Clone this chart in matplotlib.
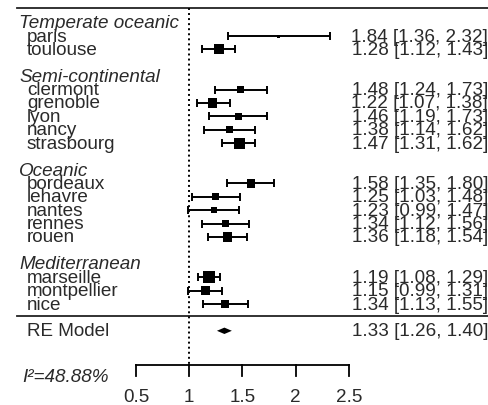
import numpy as np
import matplotlib
matplotlib.use("Agg")
import matplotlib.pyplot as plt

plt.rcParams['font.family'] = ['Liberation Sans', 'DejaVu Sans']

groups = ["Temperate oceanic", "Semi-continental", "Oceanic", "Mediterranean"]
group_studies = [
    ["paris", "toulouse"],
    ["clermont", "grenoble", "lyon", "nancy", "strasbourg"],
    ["bordeaux", "lehavre", "nantes", "rennes", "rouen"],
    ["marseille", "montpellier", "nice"],
]
est = [1.84, 1.28, 1.48, 1.22, 1.46, 1.38, 1.47, 1.58, 1.25, 1.23, 1.34, 1.36, 1.19, 1.15, 1.34]
lo = [1.36, 1.12, 1.24, 1.07, 1.19, 1.14, 1.31, 1.35, 1.03, 0.99, 1.12, 1.18, 1.08, 0.99, 1.13]
hi = [2.32, 1.43, 1.73, 1.38, 1.73, 1.62, 1.62, 1.80, 1.48, 1.47, 1.56, 1.54, 1.29, 1.31, 1.55]
re_label = "RE Model"
re_est, re_lo, re_hi = 1.33, 1.26, 1.40
i2_text = "I²=48.88%"
xticks = [0.5, 1, 1.5, 2, 2.5]
xtick_labels = ["0.5", "1", "1.5", "2", "2.5"]

W, H = 489, 406
fig = plt.figure(figsize=(W / 100, H / 100), dpi=100)
ax = fig.add_axes([0, 0, 1, 1])
ax.axis('off')
pxu = 106.5
xmin = 0.5 - 136 / pxu
ax.set_xlim(xmin, xmin + W / pxu)
rowpx = 13.4
ax.set_ylim(1 - (H - 305) / rowpx, 1 + 305 / rowpx)

def px2x(p):
    return xmin + p / pxu

def py2y(p):
    return 1 + (305 - p) / rowpx

tc = '#2a2a2a'
fs = 13.6

# layout rows
study_rows = []
header_rows = []
r = 22
for g, studies in zip(groups, group_studies):
    header_rows.append(r)
    r -= 1
    for s in studies:
        study_rows.append(r)
        r -= 1
    r -= 1
names = [s for st in group_studies for s in st]

est_a = np.array(est); lo_a = np.array(lo); hi_a = np.array(hi)
se = (np.log(hi_a) - np.log(lo_a)) / 3.92
lw_ = np.log(1 / se**2)
norm = (lw_ - lw_.min()) / (lw_.max() - lw_.min())
sz_px = 3 + 9 * norm**0.8

ax.errorbar(est_a, study_rows, xerr=[est_a - lo_a, hi_a - est_a], fmt='none',
            ecolor='black', elinewidth=1.4, capsize=3.2, capthick=1.4, zorder=3)
ax.scatter(est_a, study_rows, marker='s', s=(sz_px * 0.72)**2, color='black',
           linewidths=0, zorder=4)

# diamond
h = 3.2 / rowpx
ax.fill([re_lo, re_est, re_hi, re_est], [-1, -1 + h, -1, -1 - h], color='black', lw=0, zorder=4)

# lines
ax.plot([px2x(17), px2x(489)], [py2y(9)] * 2, color='#222', lw=1.3)
ax.plot([px2x(17), px2x(489)], [py2y(317)] * 2, color='#222', lw=1.3)
ax.plot([1, 1], [py2y(9), py2y(366)], color='black', lw=1.4, ls=(0, (1, 1.6)))

# axis
ax.plot([xticks[0], xticks[-1]], [py2y(366)] * 2, color='black', lw=1.3)
for t, lab in zip(xticks, xtick_labels):
    ax.plot([t, t], [py2y(366), py2y(377)], color='black', lw=1.3)
    ax.text(t, py2y(398), lab, ha='center', va='center', fontsize=fs, color=tc)

# texts
for g, rr in zip(groups, header_rows):
    ax.text(px2x(19), rr, g, ha='left', va='center', fontsize=fs, style='italic', color=tc)
for n, rr in zip(names, study_rows):
    ax.text(px2x(27), rr, n, ha='left', va='center', fontsize=fs, color=tc)
for e, l, u, rr in zip(est, lo, hi, study_rows):
    ax.text(px2x(488), rr, f"{e:.2f} [{l:.2f}, {u:.2f}]", ha='right', va='center',
            fontsize=fs, color=tc)
ax.text(px2x(27), -1, re_label, ha='left', va='center', fontsize=fs, color=tc)
ax.text(px2x(488), -1, f"{re_est:.2f} [{re_lo:.2f}, {re_hi:.2f}]", ha='right', va='center',
        fontsize=fs, color=tc)
ax.text(px2x(22), py2y(378), i2_text, ha='left', va='center', fontsize=fs, style='italic', color=tc)

fig.savefig("out.png", dpi=100)
